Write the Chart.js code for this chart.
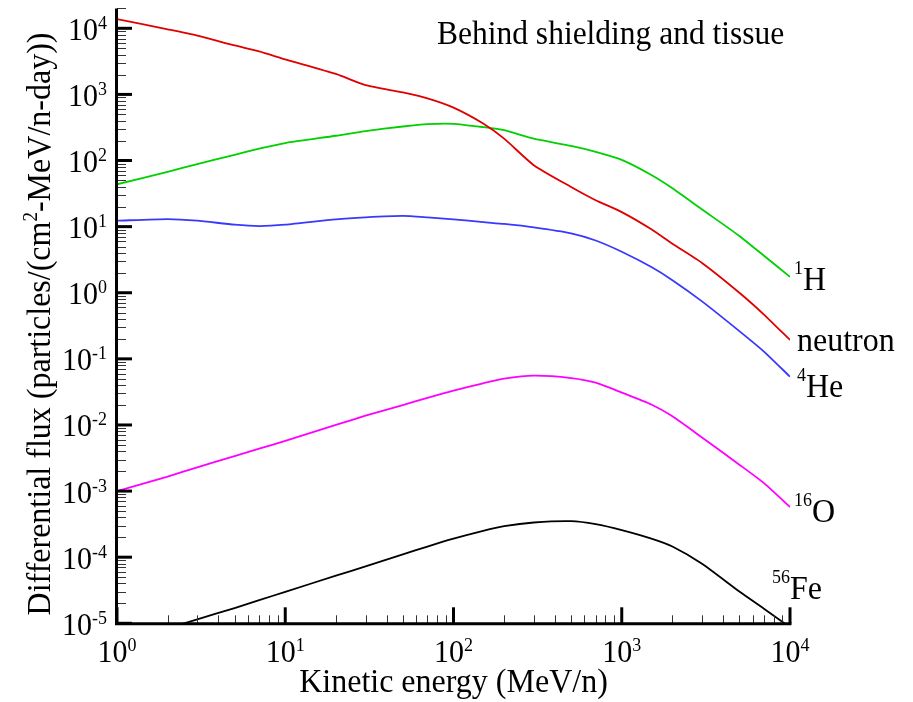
<!DOCTYPE html>
<html>
<head>
<meta charset="utf-8">
<script src="https://cdn.jsdelivr.net/npm/chart.js@4"></script>
<style>
  html, body { margin: 0; padding: 0; background: #fff; }
  canvas { display: block; }
</style>
</head>
<body>
<canvas id="chart" width="913" height="702"></canvas>
<script>
// kinetic energy (MeV/n)
const energy = [1, 2, 3, 5, 7, 10, 20, 30, 50, 70, 100, 150, 200, 300, 500, 700, 1000, 1500, 2000, 3000, 5000, 7000, 10000];

// differential flux, particles/(cm2-MeV/n-day)
const neutron = [13800, 9660, 7760, 5500, 4470, 3390, 2040, 1380, 1070, 871, 631, 363, 214, 85.1, 39.8, 25.1, 16.6, 9.12, 5.5, 2.82, 1.0, 0.468, 0.193];
const hydrogen1 = [43.7, 67.6, 88.1, 122, 151, 184, 237, 279, 327, 355, 359, 320, 288, 214, 166, 135, 102, 60.3, 38.0, 18.2, 7.24, 3.63, 1.74];
const helium4 = [12.3, 13.0, 12.3, 10.7, 10.2, 10.7, 12.9, 13.8, 14.5, 13.8, 12.9, 11.7, 11.0, 9.77, 7.94, 6.17, 4.17, 2.45, 1.55, 0.741, 0.263, 0.129, 0.0537];
const oxygen16 = [1.0e-3, 1.66e-3, 2.29e-3, 3.39e-3, 4.37e-3, 5.75e-3, 1.0e-2, 1.38e-2, 2.0e-2, 2.57e-2, 3.31e-2, 4.27e-2, 5.01e-2, 5.56e-2, 5.13e-2, 4.37e-2, 3.09e-2, 2.04e-2, 1.35e-2, 6.46e-3, 2.51e-3, 1.32e-3, 5.75e-4];
const iron56 = [4.68e-6, 8.32e-6, 1.15e-5, 1.70e-5, 2.24e-5, 2.99e-5, 5.25e-5, 7.24e-5, 1.10e-4, 1.45e-4, 1.91e-4, 2.51e-4, 2.95e-4, 3.35e-4, 3.51e-4, 3.16e-4, 2.57e-4, 1.91e-4, 1.45e-4, 7.94e-5, 3.02e-5, 1.66e-5, 8.71e-6];

// axis ticks (decades) and their exponent labels
const xTicks = [1, 10, 100, 1000, 10000];
const xTickExp = ['0', '1', '2', '3', '4'];
const yTicks = [1e-5, 1e-4, 1e-3, 1e-2, 1e-1, 1, 10, 100, 1000, 10000];
const yTickExp = ['-5', '-4', '-3', '-2', '-1', '0', '1', '2', '3', '4'];

const title = 'Behind shielding and tissue';
const xTitle = 'Kinetic energy (MeV/n)';

const FONT = '"Liberation Serif", "Times New Roman", serif';
const STRETCH = 1.06;

function pts(vals) {
  return energy.map((e, i) => ({ x: e, y: vals[i] }));
}

// text with superscript parts, segs = [{t, sup}]
function rich(ctx, segs, x, y, size, supSize, raise, align) {
  const widths = segs.map(s => {
    ctx.font = (s.sup ? supSize : size) + 'px ' + FONT;
    return ctx.measureText(s.t).width;
  });
  const total = widths.reduce((a, b) => a + b, 0);
  let cx = align === 'right' ? x - total : align === 'center' ? x - total / 2 : x;
  ctx.textAlign = 'left';
  ctx.textBaseline = 'alphabetic';
  segs.forEach((s, i) => {
    ctx.font = (s.sup ? supSize : size) + 'px ' + FONT;
    ctx.save();
    ctx.translate(cx, s.sup ? y - raise : y);
    ctx.scale(1, STRETCH);
    ctx.fillText(s.t, 0, 0);
    ctx.restore();
    cx += widths[i];
  });
}

const axesPlugin = {
  id: 'tecAxes',
  afterDraw(chart) {
    const { ctx, chartArea: a, scales: { x, y } } = chart;
    ctx.save();
    ctx.strokeStyle = '#000';
    ctx.fillStyle = '#000';
    const ln = (x1, y1, x2, y2) => { ctx.beginPath(); ctx.moveTo(x1, y1); ctx.lineTo(x2, y2); ctx.stroke(); };

    // minor ticks, inward
    ctx.lineWidth = 1;
    ctx.strokeStyle = '#333';
    for (let d = -5; d <= 4; d++) {
      for (let m = 2; m <= 9; m++) {
        const v = m * Math.pow(10, d);
        if (v > y.max) break;
        const py = Math.round(y.getPixelForValue(v)) + 0.5;
        ln(a.left, py, a.left + 9, py);
      }
    }
    for (let d = 0; d <= 3; d++) {
      for (let m = 2; m <= 9; m++) {
        const px = Math.round(x.getPixelForValue(m * Math.pow(10, d))) + 0.5;
        ln(px, a.bottom, px, a.bottom - 8);
      }
    }

    // major ticks
    ctx.strokeStyle = '#000';
    ctx.lineWidth = 3;
    yTicks.forEach(v => { const py = y.getPixelForValue(v); ln(a.left, py, a.left + 15, py); });
    xTicks.forEach(v => { const px = x.getPixelForValue(v); ln(px, a.bottom, px, a.bottom - 16); });

    // axis lines
    ctx.beginPath();
    ctx.moveTo(a.left - 0.5, a.top);
    ctx.lineTo(a.left - 0.5, a.bottom + 0.5);
    ctx.lineTo(a.right + 1.5, a.bottom + 0.5);
    ctx.stroke();

    // tick labels
    yTicks.forEach((v, i) => {
      rich(ctx, [{ t: '10' }, { t: yTickExp[i], sup: true }], a.left - 10, y.getPixelForValue(v) + 11.5, 30, 18, 11, 'right');
    });
    xTicks.forEach((v, i) => {
      rich(ctx, [{ t: '10' }, { t: xTickExp[i], sup: true }], x.getPixelForValue(v), 662, 30, 18, 11, 'center');
    });

    // axis titles
    rich(ctx, [{ t: xTitle }], (a.left + a.right) / 2, 692, 32, 20, 0, 'center');
    ctx.save();
    ctx.translate(50, 324);
    ctx.rotate(-Math.PI / 2);
    rich(ctx, [{ t: 'Differential flux (particles/(cm' }, { t: '2', sup: true }, { t: '-MeV/n-day))' }], 0, 0, 32, 19, 13, 'center');
    ctx.restore();

    // plot title
    rich(ctx, [{ t: title }], 437, 44, 31.5, 18, 0, 'left');

    // curve labels
    rich(ctx, [{ t: '1', sup: true }, { t: 'H' }], 794, 290, 32, 18, 16, 'left');
    rich(ctx, [{ t: 'neutron' }], 797, 350.5, 32, 18, 16, 'left');
    rich(ctx, [{ t: '4', sup: true }, { t: 'He' }], 797, 396.5, 32, 18, 16, 'left');
    rich(ctx, [{ t: '16', sup: true }, { t: 'O' }], 794, 521.5, 32, 18, 16, 'left');
    rich(ctx, [{ t: '56', sup: true }, { t: 'Fe' }], 772, 599, 32, 18, 16, 'left');
    ctx.restore();
  }
};

const lineStyle = { pointRadius: 0, borderWidth: 1.8, tension: 0.2, fill: false };

new Chart(document.getElementById('chart'), {
  type: 'line',
  data: {
    datasets: [
      { label: 'neutron', data: pts(neutron), borderColor: '#e00000', ...lineStyle },
      { label: '1H', data: pts(hydrogen1), borderColor: '#00d000', ...lineStyle },
      { label: '4He', data: pts(helium4), borderColor: '#3838ff', ...lineStyle },
      { label: '16O', data: pts(oxygen16), borderColor: '#ff00ff', ...lineStyle },
      { label: '56Fe', data: pts(iron56), borderColor: '#000000', ...lineStyle }
    ]
  },
  options: {
    responsive: false,
    animation: false,
    devicePixelRatio: 1,
    layout: { padding: { left: 0, right: 123, top: 8.4, bottom: 0 } },
    plugins: { legend: { display: false }, tooltip: { enabled: false } },
    scales: {
      x: {
        type: 'logarithmic', min: 1, max: 10000,
        ticks: { display: false }, grid: { display: false }, border: { display: false },
        afterFit: s => { s.height = 78.7; }
      },
      y: {
        type: 'logarithmic', min: 1e-5, max: 2e4,
        ticks: { display: false }, grid: { display: false }, border: { display: false },
        afterFit: s => { s.width = 117; }
      }
    }
  },
  plugins: [axesPlugin]
});
</script>
</body>
</html>
